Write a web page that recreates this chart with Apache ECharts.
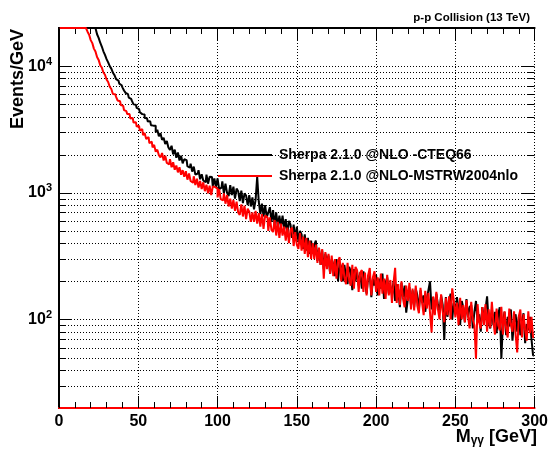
<!DOCTYPE html>
<html>
<head>
<meta charset="utf-8">
<script src="https://cdn.jsdelivr.net/npm/echarts@6.0.0/dist/echarts.min.js"></script>
<style>
html, body { margin: 0; padding: 0; background: #fff; }
#chart { width: 551px; height: 453px; }
</style>
</head>
<body>
<div id="chart"></div>
<script>
// M_gamma-gamma spectrum, 1 GeV bins from 0 to 300, events per GeV
var FONT = '"Liberation Sans", Arial, sans-serif';
var seriesNames = ['Sherpa 2.1.0 @NLO -CTEQ66', 'Sherpa 2.1.0 @NLO-MSTRW2004nlo'];
var Y_MIN = 20, Y_MAX = 20000;

var cteqVals = [
  90000,85000,80000,75000,70000,66000,62000,58000,54000,50000,
  47000,44000,41500,39000,36500,34000,32000,30000,28000,26200,
  24600,22500,21000,19450,17850,16700,15300,14280,13100,12250,
  11350,10700,10000,9560,8870,8500,7900,7690,7280,7070,
  6800,6420,6150,6010,5650,5520,5310,4990,4960,4680,
  4580,4330,4180,4150,3900,3880,3650,3680,3420,3390,
  3380,3010,3150,2790,2950,2620,2720,2430,2560,2280,
  2180,2350,2010,2190,1890,2080,1800,1960,1710,1840,
  1810,1620,1580,1700,1470,1610,1390,1420,1510,1280,
  1400,1250,1210,1390,1180,1340,1330,1120,1300,1110,
  1300,1070,1100,1230,990,1180,1000,940,1150,960,
  1120,900,1080,1030,860,1040,830,990,950,800,
  960,780,920,740,880,1340,850,680,820,650,
  800,640,700,770,590,730,560,700,540,660,
  540,660,520,620,470,600,560,440,560,430,
  540,410,500,470,360,470,350,440,330,420,
  330,390,420,290,360,270,350,250,330,280,
  320,230,300,270,220,300,200,280,260,200,
  270,220,190,260,240,170,250,200,240,185,
  235,175,240,200,160,220,230,150,210,185,
  225,155,210,175,230,145,195,215,160,185,
  155,200,140,190,170,125,195,150,185,113,
  145,180,130,170,125,175,155,120,170,135,
  155,115,145,170,200,120,150,110,160,130,
  115,155,130,69,150,105,140,160,100,135,
  110,150,120,90,140,125,95,145,105,125,
  130,85,115,140,95,110,80,125,100,120,
  152,95,85,120,90,115,78,110,125,49,
  95,115,75,105,88,120,68,95,110,80,
  105,75,98,112,65,92,82,105,70,52
];

var mstwVals = [
  85000,80000,75000,70000,65000,60000,56000,52000,48000,44000,
  40000,37000,34000,31000,28000,24800,22100,
  20600,18700,17700,16050,15200,13750,13050,11800,11200,10150,
  9750,8900,8550,7850,7500,6880,6600,6030,
  5990,5720,5350,5280,4930,4850,4500,4410,
  4180,4180,3850,3900,3590,3610,3330,3380,3100,
  3180,2850,2960,2660,2750,2470,2530,2280,2390,2110,2190,1980,
  1900,2060,1800,1960,1720,1680,1840,1590,1740,1520,1640,1450,
  1590,1390,1510,1340,1480,1270,1420,1240,1200,1350,1150,1290,1100,1240,1070,
  1210,1030,1160,990,1140,960,1120,1110,1080,920,
  1070,890,870,990,820,960,780,900,750,880,720,
  850,700,670,810,650,790,620,750,710,590,700,
  590,720,570,690,540,680,520,660,640,500,
  640,510,490,610,460,590,440,570,460,540,
  420,530,400,510,530,380,490,390,
  360,480,350,450,330,440,310,420,300,400,
  300,390,280,370,270,360,210,340,250,330,
  230,320,220,300,210,290,310,200,280,215,
  190,280,205,185,270,175,260,245,165,235,
  245,165,235,155,225,255,155,215,240,165,
  215,155,230,160,210,145,225,155,205,135,195,
  256,135,190,130,200,145,125,185,140,195,120,
  175,118,185,128,112,178,135,108,168,122,162,
  113,79,152,108,165,120,100,158,115,95,148,
  108,152,100,176,142,104,136,90,148,100,130,
  95,142,105,85,138,100,90,49,132,95,85,
  125,90,132,80,120,86,138,95,76,122,90,
  82,126,76,116,86,72,122,92,80,116,76,
  55,106,120,72,110,82,68,116,78,105,72
];

// log grid lines (ROOT draws one at every 1..9 x 10^n)
var yGridVals = [30,40,50,60,70,80,90,100,200,300,400,500,600,700,800,900,
  1000,2000,3000,4000,5000,6000,7000,8000,9000,10000];

function isPow10(v) {
  var e = Math.round(Math.log10(v));
  return Math.abs(v - Math.pow(10, e)) < 1e-6 * v;
}

// like ROOT, bins above the frame are drawn along the top edge
function toBins(vals) {
  return vals.map(function (v, i) { return [i + 0.5, Math.min(v, Y_MAX)]; });
}

var chart = echarts.init(document.getElementById('chart'));

var xAxisBase = {
  type: 'value', min: 0, max: 300, interval: 50,
  axisTick: { show: true, inside: true, length: 12, lineStyle: { color: '#000', width: 1 } },
  minorTick: { show: true, splitNumber: 5, length: 6, lineStyle: { color: '#000', width: 1 } }
};

chart.setOption({
  animation: false,
  backgroundColor: '#fff',
  title: {
    text: 'p-p Collision (13 TeV)',
    right: 16, top: 7,
    textStyle: { fontFamily: FONT, fontWeight: 'bold', fontSize: 11.5, color: '#000' }
  },
  legend: {
    orient: 'vertical', left: 213, top: 142,
    itemWidth: 54, itemHeight: 2, itemGap: 5, icon: 'rect',
    data: seriesNames,
    textStyle: { fontFamily: FONT, fontWeight: 'bold', fontSize: 14, color: '#000', lineHeight: 16, padding: [0, 0, 0, 2] }
  },
  grid: { left: 59, right: 14, top: 28, bottom: 45 },
  xAxis: [
    Object.assign({}, xAxisBase, {
      position: 'bottom',
      axisLine: { show: true, lineStyle: { color: '#ff0000', width: 2 } },
      axisLabel: { margin: 6, fontFamily: FONT, fontWeight: 'bold', fontSize: 16, color: '#000' },
      splitLine: { show: true, lineStyle: { color: '#000', width: 1, type: [1, 2] } }
    }),
    Object.assign({}, xAxisBase, {
      position: 'top',
      axisLine: { show: true, lineStyle: { color: '#000', width: 2 } },
      axisLabel: { show: false },
      splitLine: { show: false }
    })
  ],
  yAxis: [
    {
      type: 'log', logBase: 10, min: Y_MIN, max: Y_MAX, position: 'left',
      axisLine: { show: true, lineStyle: { color: '#000', width: 2 } },
      axisTick: { show: false },
      splitLine: { show: false },
      axisLabel: {
        margin: 7,
        formatter: function (v) {
          if (!isPow10(v)) return '';
          return '{b|10}{s|' + Math.round(Math.log10(v)) + '}';
        },
        rich: {
          b: { fontFamily: FONT, fontWeight: 'bold', fontSize: 16, color: '#000' },
          s: { fontFamily: FONT, fontWeight: 'bold', fontSize: 11, color: '#000', padding: [0, 0, 9, 0] }
        }
      }
    },
    {
      type: 'log', logBase: 10, min: Y_MIN, max: Y_MAX, position: 'right',
      axisLine: { show: true, lineStyle: { color: '#000', width: 2 } },
      axisTick: { show: false }, axisLabel: { show: false }, splitLine: { show: false }
    }
  ],
  graphic: [
    {
      type: 'text', x: 18, y: 29, rotation: Math.PI / 2,
      style: {
        text: 'Events/GeV', fill: '#000', align: 'right', verticalAlign: 'middle',
        font: 'bold 18px ' + FONT
      }
    },
    {
      type: 'text', x: 537, y: 437,
      style: {
        text: '{m|M}{g|γγ}{m| [GeV]}', fill: '#000', align: 'right', verticalAlign: 'middle',
        rich: {
          m: { fontFamily: FONT, fontWeight: 'bold', fontSize: 18, fill: '#000' },
          g: { fontFamily: FONT, fontWeight: 'bold', fontSize: 12, fill: '#000', padding: [8, 0, 0, 0] }
        }
      }
    }
  ],
  series: [
    {
      type: 'custom', z: 1, silent: true,
      xAxisIndex: 0, yAxisIndex: 0,
      data: yGridVals.map(function (v) { return [0, v]; }),
      renderItem: function (params, api) {
        var cs = params.coordSys;
        var y = Math.round(api.coord([0, api.value(1)])[1]) + 0.5;
        var len = isPow10(api.value(1)) ? 13 : 7;
        return {
          type: 'group',
          children: [
            { type: 'line', shape: { x1: cs.x, y1: y, x2: cs.x + cs.width, y2: y },
              style: { stroke: '#000', lineWidth: 1, lineDash: [1, 2] } },
            { type: 'line', shape: { x1: cs.x, y1: y, x2: cs.x + len, y2: y },
              style: { stroke: '#000', lineWidth: 1 } },
            { type: 'line', shape: { x1: cs.x + cs.width - len, y1: y, x2: cs.x + cs.width, y2: y },
              style: { stroke: '#000', lineWidth: 1 } }
          ]
        };
      }
    },
    {
      name: seriesNames[0], type: 'line', step: 'middle', z: 2,
      showSymbol: false, symbol: 'none', color: '#000',
      lineStyle: { color: '#000', width: 2 },
      data: toBins(cteqVals)
    },
    {
      name: seriesNames[1], type: 'line', step: 'middle', z: 3,
      showSymbol: false, symbol: 'none', color: '#ff0000',
      lineStyle: { color: '#ff0000', width: 2 },
      data: toBins(mstwVals)
    }
  ]
});
</script>
</body>
</html>
